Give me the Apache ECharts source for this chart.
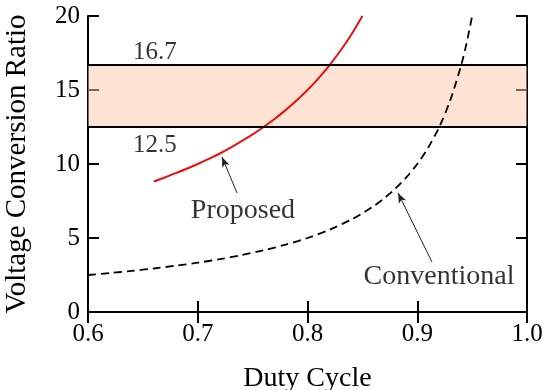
<!DOCTYPE html>
<html><head><meta charset="utf-8">
<script src="https://cdn.jsdelivr.net/npm/echarts@6/dist/echarts.min.js"></script>
<style>html,body{margin:0;padding:0;background:#fff}#c{width:550px;height:390px}</style>
</head><body><div id="c"></div>
<script>
var xTicks = [0.6, 0.7, 0.8, 0.9, 1.0];
var yTicks = [0, 5, 10, 15, 20];
var proposedD = [0.66,0.67,0.68,0.69,0.70,0.71,0.72,0.73,0.74,0.75,0.76,0.77,0.78,0.79,0.80,0.81,0.82,0.83,0.84,0.85];
var proposedV = [8.82,9.09,9.38,9.68,10.0,10.34,10.71,11.11,11.54,12.0,12.5,13.04,13.64,14.29,15.0,15.79,16.67,17.65,18.75,20.0];
var convD = [0.60,0.62,0.64,0.66,0.68,0.70,0.72,0.74,0.76,0.78,0.80,0.82,0.84,0.85,0.86,0.87,0.88,0.89,0.90,0.91,0.92,0.93,0.94,0.945,0.95];
var convV = [2.50,2.63,2.78,2.94,3.13,3.33,3.57,3.85,4.17,4.55,5.00,5.56,6.25,6.67,7.14,7.69,8.33,9.09,10.0,11.11,12.5,14.29,16.67,18.18,20.0];
var bandLow = 12.5, bandHigh = 16.7;
var bandLabels = ['16.7', '12.5'];
var seriesNames = ['Proposed', 'Conventional'];

var FONT = 'Liberation Serif';
var TXT = '#000';
function pairs(a, b){ return a.map(function(v,i){ return [v, b[i]]; }); }

var chart = echarts.init(document.getElementById('c'), null, {renderer:'canvas'});
var axisCommon = {
  type:'value',
  axisLine:{show:true, lineStyle:{color:'#000', width:2}},
  axisTick:{show:true, inside:true, length:11, lineStyle:{color:'#000', width:2}},
  splitLine:{show:false}
};
chart.setOption({
  animation:false,
  grid:{left:88, right:23, top:16, bottom:78, containLabel:false, outerBoundsMode:'none'},
  xAxis:[
    Object.assign({}, axisCommon, {min:0.6, max:1.0, interval:0.1, position:'bottom',
      name:'Duty Cycle', nameLocation:'middle', nameGap:53,
      nameTextStyle:{fontFamily:FONT, fontSize:28, color:TXT},
      axisLabel:{fontFamily:FONT, fontSize:25, color:TXT, margin:10,
        formatter:function(v){ return v.toFixed(1); }}}),
    Object.assign({}, axisCommon, {min:0.6, max:1.0, interval:0.1, position:'top', axisLabel:{show:false}})
  ],
  yAxis:[
    Object.assign({}, axisCommon, {min:0, max:20, interval:5, position:'left',
      name:'Voltage Conversion Ratio', nameLocation:'middle', nameGap:56,
      nameTextStyle:{fontFamily:FONT, fontSize:29, color:TXT},
      axisLabel:{fontFamily:FONT, fontSize:25, color:TXT, margin:8}}),
    Object.assign({}, axisCommon, {min:0, max:20, interval:5, position:'right', axisLabel:{show:false}})
  ],
  series:[
    {type:'line', name:seriesNames[0], data:pairs(proposedD, proposedV), smooth:0.3, showSymbol:false,
      lineStyle:{color:'rgb(232,16,16)', width:2}, z:2},
    {type:'line', name:seriesNames[1], data:pairs(convD, convV), smooth:0.3, showSymbol:false,
      lineStyle:{color:'#000', width:1.8, type:[8,5]}, z:2},
    {type:'line', data:[], z:3, silent:true,
      markArea:{silent:true, itemStyle:{color:'rgba(251,200,170,0.5)'},
        data:[[{yAxis:bandLow},{yAxis:bandHigh}]]}},
    {type:'line', data:[], z:4, silent:true,
      markLine:{silent:true, symbol:['none','none'], label:{show:false},
        lineStyle:{color:'#000', width:2, type:'solid'},
        data:[{yAxis:bandHigh},{yAxis:bandLow}]}},
    {type:'line', data:[], z:5, silent:true,
      markLine:{silent:true, symbol:['none','arrow'], symbolSize:[6,10], label:{show:false},
        lineStyle:{color:'#222', width:1, type:'solid'},
        data:[
          [{coord:[0.7358, 8.04]},{coord:[0.7221, 10.47]}],
          [{coord:[0.9134, 3.38]},{coord:[0.8825, 8.04]}]
        ]}},
    {type:'scatter', symbolSize:0, z:6, silent:true,
      label:{show:true, position:'inside', fontFamily:FONT, fontSize:25, color:TXT,
        formatter:function(p){ return p.data[2]; }},
      data:[
        [0.661, 17.57, bandLabels[0]],
        [0.661, 11.28, bandLabels[1]]
      ]},
    {type:'scatter', symbolSize:0, z:6, silent:true,
      label:{show:true, position:'inside', fontFamily:FONT, fontSize:28, color:TXT,
        formatter:function(p){ return p.data[2]; }},
      data:[
        [0.7412, 6.82, seriesNames[0]],
        [0.9198, 2.36, seriesNames[1]]
      ]}
  ]
});
</script></body></html>
